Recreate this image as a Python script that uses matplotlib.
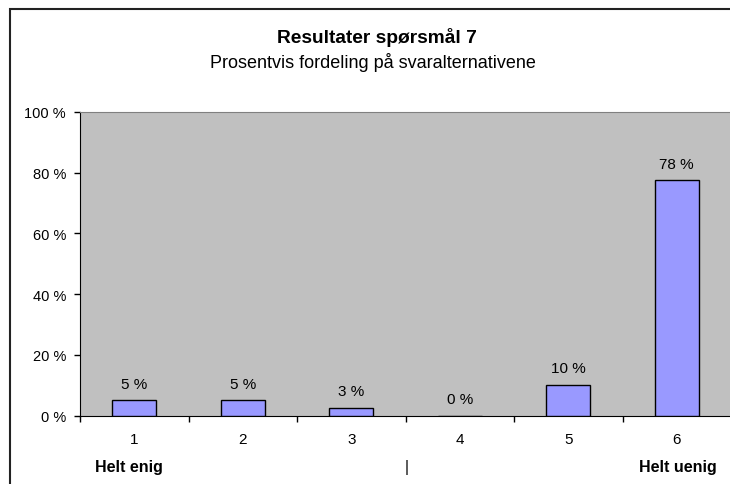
import matplotlib.pyplot as plt
from matplotlib.patches import Rectangle
from matplotlib.ticker import FixedLocator, FuncFormatter

plt.rcParams['font.family'] = ['Liberation Sans', 'DejaVu Sans']

# data (andel svar per alternativ, i prosent)
kategorier = ['1', '2', '3', '4', '5', '6']
andeler = [5.0, 5.0, 2.5, 0.0, 10.0, 77.5]
y_ticks = [0, 20, 40, 60, 80, 100]

W, H = 730, 485
fig = plt.figure(figsize=(W / 100, H / 100), dpi=100)

# plot area in pixel coordinates (runs slightly past the right edge, like the reference)
left, right, top, bottom = 80, 731, 113, 416.5
ax = fig.add_axes([left / W, 1 - bottom / H, (right - left) / W, (bottom - top) / H])
ax.set_facecolor('#C0C0C0')

x = list(range(len(kategorier)))
ax.bar(x, andeler, width=0.41, color='#9999FF', edgecolor='black', linewidth=1, zorder=3)

for xi, v in zip(x, andeler):
    ax.annotate(f'{int(v + 0.5)} %', (xi, v), xytext=(0, 12), textcoords='offset points',
                ha='center', va='center', fontsize=11)

ax.set_xlim(-0.5, len(kategorier) - 0.5)
ax.set_ylim(0, 100)

ax.set_xticks(x)
ax.set_xticklabels(kategorier, fontsize=11)
ax.xaxis.set_minor_locator(FixedLocator([i - 0.5 for i in range(len(kategorier) + 1)]))
ax.tick_params(axis='x', which='major', length=0, pad=12)
ax.tick_params(axis='x', which='minor', length=4, direction='out', width=1)

ax.set_yticks(y_ticks)
ax.yaxis.set_major_formatter(FuncFormatter(lambda v, p: f'{int(v)} %'))
ax.tick_params(axis='y', length=4, direction='out', width=1, pad=6, labelsize=10.5)

ax.spines['left'].set_color('black')
ax.spines['bottom'].set_color('black')
ax.spines['top'].set_color('#808080')
ax.spines['right'].set_color('#808080')

# titler
fig.text(377 / W, 1 - 38 / H, 'Resultater spørsmål 7', ha='center', va='center',
         fontsize=13.8, fontweight='bold')
fig.text(373 / W, 1 - 62 / H, 'Prosentvis fordeling på svaralternativene', ha='center',
         va='center', fontsize=13)

# aksetittel under x-aksen
fig.text(129 / W, 1 - 468 / H, 'Helt enig', ha='center', va='center', fontsize=11.5,
         fontweight='bold')
fig.text(407 / W, 1 - 468 / H, '|', ha='center', va='center', fontsize=11.5)
fig.text(678 / W, 1 - 468 / H, 'Helt uenig', ha='center', va='center', fontsize=11.5,
         fontweight='bold')

# ramme rundt diagrammet
fig.patches.append(Rectangle((9.5, -5), 740, H - 9.5 + 5, transform=None, fill=False,
                             edgecolor='#222222', linewidth=1.5))

fig.savefig('out.png', dpi=100)
